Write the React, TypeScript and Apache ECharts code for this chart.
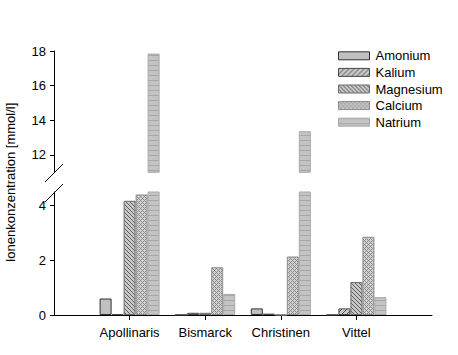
import React, { useEffect, useRef } from 'react';
import * as echarts from 'echarts';

const categories = ['Apollinaris', 'Bismarck', 'Christinen', 'Vittel'];
const seriesNames = ['Amonium', 'Kalium', 'Magnesium', 'Calcium', 'Natrium'];
const amonium = [0.6, 0, 0.24, 0];
const kalium = [0.03, 0.08, 0.05, 0.24];
const magnesium = [4.16, 0.08, 0, 1.2];
const calcium = [4.39, 1.74, 2.13, 2.85];
const natrium = [17.85, 0.77, 13.37, 0.65];
const lowerTicks = [0, 2, 4];
const upperTicks = [12, 14, 16, 18];
const lowerRange = [0, 4.48];
const upperRange = [11, 18];
const yTitle = 'Ionenkonzentration [mmol/l]';

const FONT = 'Liberation Sans, Arial, sans-serif';

function makePattern(w: number, h: number, fn: (x: number, y: number) => string) {
  const c = document.createElement('canvas');
  c.width = w;
  c.height = h;
  const ctx = c.getContext('2d')!;
  for (let y = 0; y < h; y++) {
    for (let x = 0; x < w; x++) {
      ctx.fillStyle = fn(x, y);
      ctx.fillRect(x, y, 1, 1);
    }
  }
  return { image: c.toDataURL(), repeat: 'repeat', imageWidth: w, imageHeight: h };
}

export default function App() {
  const ref = useRef<HTMLDivElement>(null);
  useEffect(() => {
    if (!ref.current) return;
    const chart = echarts.init(ref.current, undefined, { renderer: 'svg' });

    const styles = [
      { color: '#c0c0c0', borderColor: '#303030' },
      {
        color: makePattern(5, 5, (x, y) => ((x + y) % 5 === 0 ? '#505050' : '#c8c8c8')),
        borderColor: '#484848',
      },
      {
        color: makePattern(4, 4, (x, y) => ((x - y + 8) % 4 === 0 ? '#5c5c5c' : '#c8c8c8')),
        borderColor: '#6c6c6c',
      },
      {
        color: makePattern(4, 4, (x, y) =>
          (x + y) % 4 === 0 || (x - y + 8) % 4 === 0 ? '#8a8a8a' : '#d2d2d2'
        ),
        borderColor: '#8c8c8c',
      },
      {
        color: makePattern(4, 5, (x, y) => (y === 0 ? '#a6a6a6' : '#c4c4c4')),
        borderColor: '#a8a8a8',
      },
    ];
    const values = [amonium, kalium, magnesium, calcium, natrium];
    const axisCats = ['', ...categories, ''];

    const series: any[] = [];
    seriesNames.forEach((name, i) => {
      const st = styles[i];
      const lowerData = ['-', ...values[i], '-'];
      const upperData = ['-', ...values[i].map((v) => (v > upperRange[0] ? v : '-')), '-'];
      const common = {
        name,
        type: 'bar',
        barWidth: 12,
        barGap: '0%',
        itemStyle: { color: st.color, borderColor: st.borderColor, borderWidth: 1 },
        emphasis: { disabled: true },
      };
      series.push({ ...common, xAxisIndex: 0, yAxisIndex: 0, data: lowerData });
      series.push({ ...common, xAxisIndex: 1, yAxisIndex: 1, data: upperData });
    });

    const labelStyle = { color: '#000', fontSize: 13, fontFamily: FONT };

    chart.setOption({
      animation: false,
      textStyle: { fontFamily: FONT },
      grid: [
        { left: 54, width: 378, top: 192, height: 123 },
        { left: 54, width: 378, top: 51, height: 121.3 },
      ],
      legend: {
        orient: 'vertical',
        left: 338,
        top: 47.5,
        padding: 0,
        icon: 'rect',
        itemWidth: 31,
        itemHeight: 8,
        itemGap: 0,
        selectedMode: false,
        itemStyle: { borderWidth: 1 },
        textStyle: { ...labelStyle, lineHeight: 16.6, padding: [0, 0, 0, 1] },
        data: seriesNames,
      },
      xAxis: [
        {
          type: 'category',
          gridIndex: 0,
          data: axisCats,
          boundaryGap: false,
          axisLine: { lineStyle: { color: '#000', width: 1 } },
          axisTick: {
            length: 5,
            lineStyle: { color: '#000' },
            interval: (_i: number, v: string) => v !== '',
          },
          axisLabel: { ...labelStyle, margin: 11, interval: 0 },
          splitLine: { show: false },
        },
        {
          type: 'category',
          gridIndex: 1,
          data: axisCats,
          boundaryGap: false,
          show: false,
        },
      ],
      yAxis: [
        {
          type: 'value',
          gridIndex: 0,
          min: lowerRange[0],
          max: lowerRange[1],
          axisLine: { show: true, lineStyle: { color: '#000', width: 1 } },
          axisTick: { show: true, length: 4, lineStyle: { color: '#000' }, customValues: lowerTicks },
          axisLabel: { ...labelStyle, margin: 8, customValues: lowerTicks },
          splitLine: { show: false },
        },
        {
          type: 'value',
          gridIndex: 1,
          min: upperRange[0],
          max: upperRange[1],
          axisLine: { show: true, lineStyle: { color: '#000', width: 1 } },
          axisTick: { show: true, length: 4, lineStyle: { color: '#000' }, customValues: upperTicks },
          axisLabel: { ...labelStyle, margin: 8, customValues: upperTicks },
          splitLine: { show: false },
        },
      ],
      graphic: [
        {
          type: 'line',
          shape: { x1: 45, y1: 182, x2: 63, y2: 164 },
          style: { stroke: '#000', lineWidth: 1 },
        },
        {
          type: 'line',
          shape: { x1: 45, y1: 202, x2: 63, y2: 184 },
          style: { stroke: '#000', lineWidth: 1 },
        },
        {
          type: 'text',
          x: 10,
          y: 182.5,
          rotation: Math.PI / 2,
          style: {
            text: yTitle,
            fontSize: 13,
            fontFamily: FONT,
            fill: '#000',
            align: 'center',
            verticalAlign: 'middle',
          },
        },
      ],
      series,
    });

    return () => chart.dispose();
  }, []);
  return (
    <div
      ref={ref}
      style={{ width: 458, height: 355, position: 'absolute', left: 0, top: 0 }}
    />
  );
}
